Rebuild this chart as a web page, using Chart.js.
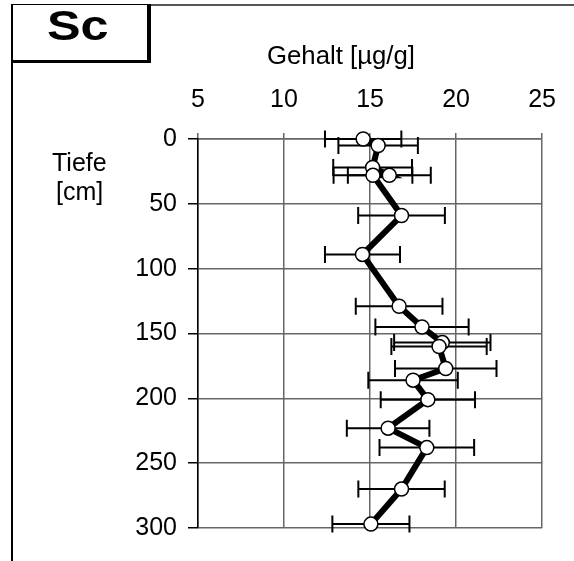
<!DOCTYPE html>
<html>
<head>
<meta charset="utf-8">
<title>Sc Tiefenprofil</title>
<script src="https://cdn.jsdelivr.net/npm/chart.js@4.4.0/dist/chart.umd.min.js"></script>
<style>
    html, body { margin: 0; padding: 0; background: #fff; }
    #wrap { position: relative; width: 574px; height: 561px; font-family: Arial, "Liberation Sans", sans-serif; color: #000; }
    #profil { position: absolute; left: 0; top: 0; }
    .lbl { position: absolute; white-space: nowrap; line-height: 1; transform-origin: left top; }
    #frameTop { position: absolute; left: 11px; top: 4px; width: 563px; height: 2px; background: #555; }
    #frameLeft { position: absolute; left: 11px; top: 4px; width: 2px; height: 557px; background: #000; }
    #scBox { position: absolute; left: 11px; top: 4px; width: 134px; height: 55px; background: #fff;
             border-style: solid; border-color: #000; border-width: 1px 4px 3px 2px; }
</style>
</head>
<body>
<div id="wrap">
    <canvas id="profil" width="574" height="561"></canvas>
    <div id="frameTop"></div>
    <div id="frameLeft"></div>
    <div id="scBox"></div>
    <div class="lbl" style="left:47px; top:5px; font-size:42px; font-weight:bold; transform:scaleX(1.2);">Sc</div>
    <div class="lbl" style="left:267px; top:43px; font-size:25px; transform:scaleX(1.03);">Gehalt [µg/g]</div>
    <div class="lbl" style="left:52px; top:150px; font-size:25px;">Tiefe</div>
    <div class="lbl" style="left:56px; top:179px; font-size:25px;">[cm]</div>
</div>
<script>
// Messwerte, von oben nach unten
const tiefe  = [0, 5, 22, 28, 28, 59, 89, 129, 145, 157, 160, 177, 186, 201, 223, 238, 270, 297];
const gehalt = [14.6, 15.47, 15.15, 16.12, 15.17, 16.83, 14.56, 16.69, 18.02, 19.2, 19.01, 19.4, 17.5, 18.36, 16.05, 18.3, 16.83, 15.05];
const fehler = [2.22, 2.31, 2.29, 2.41, 2.29, 2.52, 2.18, 2.52, 2.71, 2.8, 2.77, 2.95, 2.6, 2.74, 2.4, 2.75, 2.51, 2.24];

// Achsen
const xTicks = [5, 10, 15, 20, 25];
const yTicks = [0, 50, 100, 150, 200, 250, 300];

const punkte = tiefe.map((t, i) => ({ x: gehalt[i], y: t }));

// Fehlerbalken hinter Linie und Punkten zeichnen
const errorBars = {
    id: 'errorBars',
    beforeDatasetsDraw(chart) {
        const { ctx, scales: { x, y } } = chart;
        ctx.save();
        ctx.strokeStyle = '#000';
        ctx.lineWidth = 2;
        tiefe.forEach((t, i) => {
            const py = y.getPixelForValue(t);
            const x1 = x.getPixelForValue(gehalt[i] - fehler[i]);
            const x2 = x.getPixelForValue(gehalt[i] + fehler[i]);
            ctx.beginPath();
            ctx.moveTo(x1, py); ctx.lineTo(x2, py);
            ctx.moveTo(x1, py - 8.5); ctx.lineTo(x1, py + 8.5);
            ctx.moveTo(x2, py - 8.5); ctx.lineTo(x2, py + 8.5);
            ctx.stroke();
        });
        ctx.restore();
    }
};

const tickFont = { family: 'Arial, "Liberation Sans", sans-serif', size: 25 };

const ctx = document.getElementById('profil').getContext('2d');
new Chart(ctx, {
    type: 'scatter',
    data: {
        datasets: [{
            data: punkte,
            showLine: true,
            clip: false,
            borderColor: '#000',
            borderWidth: 6,
            pointRadius: 7,
            pointBackgroundColor: '#fff',
            pointBorderColor: '#000',
            pointBorderWidth: 1.5
        }]
    },
    options: {
        responsive: false,
        animation: false,
        devicePixelRatio: 1,
        layout: { padding: { left: 0, top: 0, right: 30, bottom: 33 } },
        plugins: {
            legend: { display: false },
            tooltip: { enabled: false }
        },
        scales: {
            x: {
                type: 'linear',
                position: 'top',
                min: 5,
                max: 25,
                afterBuildTicks: scale => { scale.ticks = xTicks.map(v => ({ value: v })); },
                afterFit: scale => { scale.height = 139; },
                ticks: { color: '#000', padding: 18, font: tickFont },
                grid: { color: '#666', lineWidth: 1.5, tickLength: 6 },
                border: { color: '#666', width: 1.5 }
            },
            y: {
                type: 'linear',
                reverse: true,
                min: 0,
                max: 300,
                afterBuildTicks: scale => { scale.ticks = yTicks.map(v => ({ value: v })); },
                afterFit: scale => { scale.width = 198; },
                ticks: { color: '#000', padding: 11, font: tickFont },
                grid: { color: '#666', lineWidth: 1.5, tickLength: 10, tickColor: '#000' },
                border: { color: '#000', width: 1.5 }
            }
        }
    },
    plugins: [errorBars]
});
</script>
</body>
</html>
